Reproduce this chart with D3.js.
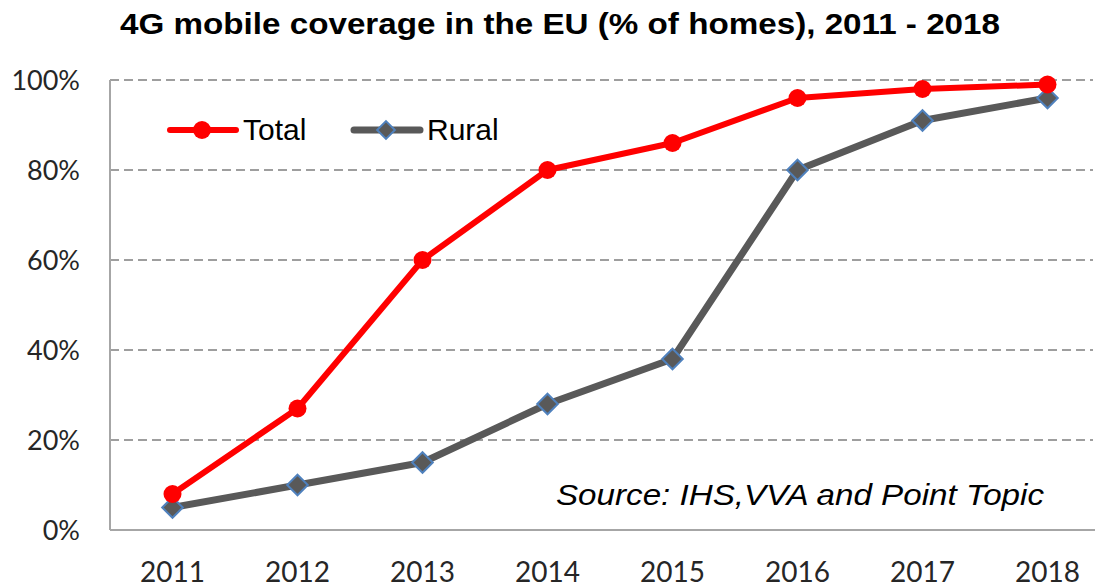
<!DOCTYPE html>
<html>
<head>
<meta charset="utf-8">
<script src="https://cdn.jsdelivr.net/npm/d3@7"></script>
<style>
  body { margin: 0; background: #fff; }
  svg { display: block; }
</style>
</head>
<body>
<div id="chart"></div>
<script>
// Données
const years = ["2011", "2012", "2013", "2014", "2015", "2016", "2017", "2018"];
const totalValues = [8, 27, 60, 80, 86, 96, 98, 99];
const ruralValues = [5, 10, 15, 28, 38, 80, 91, 96];
const yTicks = [0, 20, 40, 60, 80, 100];

const W = 1095, H = 587;

const svg = d3.select("#chart").append("svg")
    .attr("width", W)
    .attr("height", H);

// Échelles
const x = d3.scaleBand().domain(years).range([110, 1110]);
const y = d3.scaleLinear().domain([0, 100]).range([530, 80]);

// Grille
svg.append("g")
    .selectAll("line")
    .data(yTicks.filter(d => d > 0))
    .enter()
    .append("line")
    .attr("x1", 110)
    .attr("x2", 1093)
    .attr("y1", d => y(d))
    .attr("y2", d => y(d))
    .attr("stroke", "#7f7f7f")
    .attr("stroke-width", 1.5)
    .attr("stroke-dasharray", "9,5");

// Axes
svg.append("line")
    .attr("x1", 110).attr("x2", 1095)
    .attr("y1", y(0)).attr("y2", y(0))
    .attr("stroke", "#a6a6a6").attr("stroke-width", 2);
svg.append("line")
    .attr("x1", 110).attr("x2", 110)
    .attr("y1", y(0)).attr("y2", y(100))
    .attr("stroke", "#a6a6a6").attr("stroke-width", 2);

// Labels Y
svg.append("g")
    .selectAll("text")
    .data(yTicks)
    .enter()
    .append("text")
    .attr("x", 80)
    .attr("y", d => y(d))
    .attr("dy", "0.36em")
    .attr("text-anchor", "end")
    .style("font-family", "Lato, 'Open Sans', sans-serif")
    .style("font-size", "27px")
    .style("fill", "#262626")
    .text(d => d + "%");

// Labels X
svg.append("g")
    .selectAll("text")
    .data(years)
    .enter()
    .append("text")
    .attr("x", d => x(d) + x.bandwidth() / 2)
    .attr("y", 582)
    .attr("text-anchor", "middle")
    .style("font-family", "Lato, 'Open Sans', sans-serif")
    .style("font-size", "28px")
    .style("fill", "#262626")
    .text(d => d);

// Titre
svg.append("text")
    .attr("x", 120)
    .attr("y", 34)
    .attr("textLength", 880)
    .attr("lengthAdjust", "spacingAndGlyphs")
    .style("font-family", "'Liberation Sans', Arial, sans-serif")
    .style("font-weight", "bold")
    .style("font-size", "30px")
    .style("fill", "#000")
    .text("4G mobile coverage in the EU (% of homes), 2011 - 2018");

// Source
svg.append("text")
    .attr("x", 556)
    .attr("y", 505)
    .attr("textLength", 488)
    .attr("lengthAdjust", "spacingAndGlyphs")
    .style("font-family", "'Liberation Sans', Arial, sans-serif")
    .style("font-style", "italic")
    .style("font-size", "29px")
    .style("fill", "#000")
    .text("Source: IHS,VVA and Point Topic");

const cx = (d, i) => x(years[i]) + x.bandwidth() / 2;
const line = d3.line().x((d, i) => cx(d, i)).y(d => y(d));

// Rural
svg.append("path")
    .attr("d", line(ruralValues))
    .attr("fill", "none")
    .attr("stroke", "#595959")
    .attr("stroke-width", 7)
    .attr("stroke-linejoin", "round");

const diamond = d3.symbol().type(d3.symbolDiamond2).size(270);
svg.append("g")
    .selectAll("path")
    .data(ruralValues)
    .enter()
    .append("path")
    .attr("d", diamond)
    .attr("transform", (d, i) => `translate(${cx(d, i)},${y(d)})`)
    .attr("fill", "#595959")
    .attr("stroke", "#4f81bd")
    .attr("stroke-width", 2);

// Total
svg.append("path")
    .attr("d", line(totalValues))
    .attr("fill", "none")
    .attr("stroke", "#ff0000")
    .attr("stroke-width", 6)
    .attr("stroke-linejoin", "round");

svg.append("g")
    .selectAll("circle")
    .data(totalValues)
    .enter()
    .append("circle")
    .attr("cx", (d, i) => cx(d, i))
    .attr("cy", d => y(d))
    .attr("r", 9)
    .attr("fill", "#ff0000");

// Légende
const legend = svg.append("g");
legend.append("line")
    .attr("x1", 170).attr("x2", 236).attr("y1", 130).attr("y2", 130)
    .attr("stroke", "#ff0000").attr("stroke-width", 6).attr("stroke-linecap", "round");
legend.append("circle")
    .attr("cx", 202).attr("cy", 130).attr("r", 9).attr("fill", "#ff0000");
legend.append("text")
    .attr("x", 243).attr("y", 140)
    .style("font-family", "'Liberation Sans', Arial, sans-serif")
    .style("font-size", "30px")
    .text("Total");

legend.append("line")
    .attr("x1", 354).attr("x2", 420).attr("y1", 130).attr("y2", 130)
    .attr("stroke", "#595959").attr("stroke-width", 7).attr("stroke-linecap", "round");
legend.append("path")
    .attr("d", d3.symbol().type(d3.symbolDiamond2).size(200))
    .attr("transform", "translate(386,130)")
    .attr("fill", "#595959")
    .attr("stroke", "#4f81bd")
    .attr("stroke-width", 2);
legend.append("text")
    .attr("x", 427).attr("y", 140)
    .style("font-family", "'Liberation Sans', Arial, sans-serif")
    .style("font-size", "30px")
    .text("Rural");
</script>
</body>
</html>
